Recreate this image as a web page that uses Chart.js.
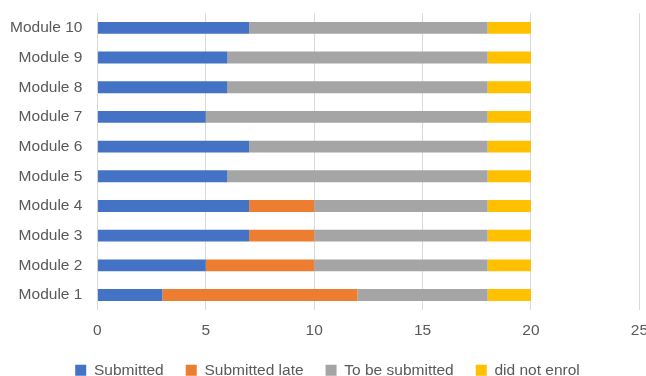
<!DOCTYPE html>
<html><head><meta charset="utf-8">
<script src="https://cdn.jsdelivr.net/npm/chart.js@4/dist/chart.umd.min.js"></script>
<style>
html,body{margin:0;padding:0;background:#fff;overflow:hidden;}
#wrap{width:660px;height:376px;position:relative;}
</style></head>
<body>
<div id="wrap"><canvas id="c"></canvas></div>
<script>
const categories = ["Module 10","Module 9","Module 8","Module 7","Module 6","Module 5","Module 4","Module 3","Module 2","Module 1"];
const submitted      = [7, 6, 6, 5, 7, 6, 7, 7, 5, 3];
const submittedLate  = [0, 0, 0, 0, 0, 0, 3, 3, 5, 9];
const toBeSubmitted  = [11, 12, 12, 13, 11, 12, 8, 8, 8, 6];
const didNotEnrol    = [2, 2, 2, 2, 2, 2, 2, 2, 2, 2];
const xTicks = [0, 5, 10, 15, 20, 25];

const font = {family: "'Liberation Sans', Arial, sans-serif", size: 15.5};
const textColor = '#595959';
function ds(label, data, color){
  return {label, data, backgroundColor: color, borderWidth: 0, barPercentage: 0.8, categoryPercentage: 0.5};
}
new Chart(document.getElementById('c'), {
  type: 'bar',
  data: {
    labels: categories,
    datasets: [
      ds('Submitted', submitted, '#4472C4'),
      ds('Submitted late', submittedLate, '#ED7D31'),
      ds('To be submitted', toBeSubmitted, '#A5A5A5'),
      ds('did not enrol', didNotEnrol, '#FFC000')
    ]
  },
  options: {
    indexAxis: 'y',
    responsive: true,
    maintainAspectRatio: false,
    animation: false,
    layout: {padding: {left: -5, top: 13, right: 0, bottom: -12}},
    scales: {
      x: {
        stacked: true, min: 0, max: 25,
        afterBuildTicks: (axis) => { axis.ticks = xTicks.map(v => ({value: v})); },
        afterFit: (axis) => { axis.height -= 12; },
        grid: {color: '#d9d9d9', lineWidth: 1, drawTicks: false},
        border: {display: false},
        ticks: {color: textColor, font: font, padding: 12}
      },
      y: {
        stacked: true,
        afterFit: (axis) => { axis.paddingTop = 0; axis.paddingBottom = 0; },
        grid: {display: false, drawTicks: false},
        border: {display: false},
        ticks: {color: textColor, font: font, padding: 15}
      }
    },
    plugins: {
      legend: {
        position: 'bottom',
        labels: {color: textColor, font: font, boxWidth: 11, boxHeight: 11, padding: 22}
      },
      tooltip: {enabled: false}
    }
  }
});
</script>
</body></html>
